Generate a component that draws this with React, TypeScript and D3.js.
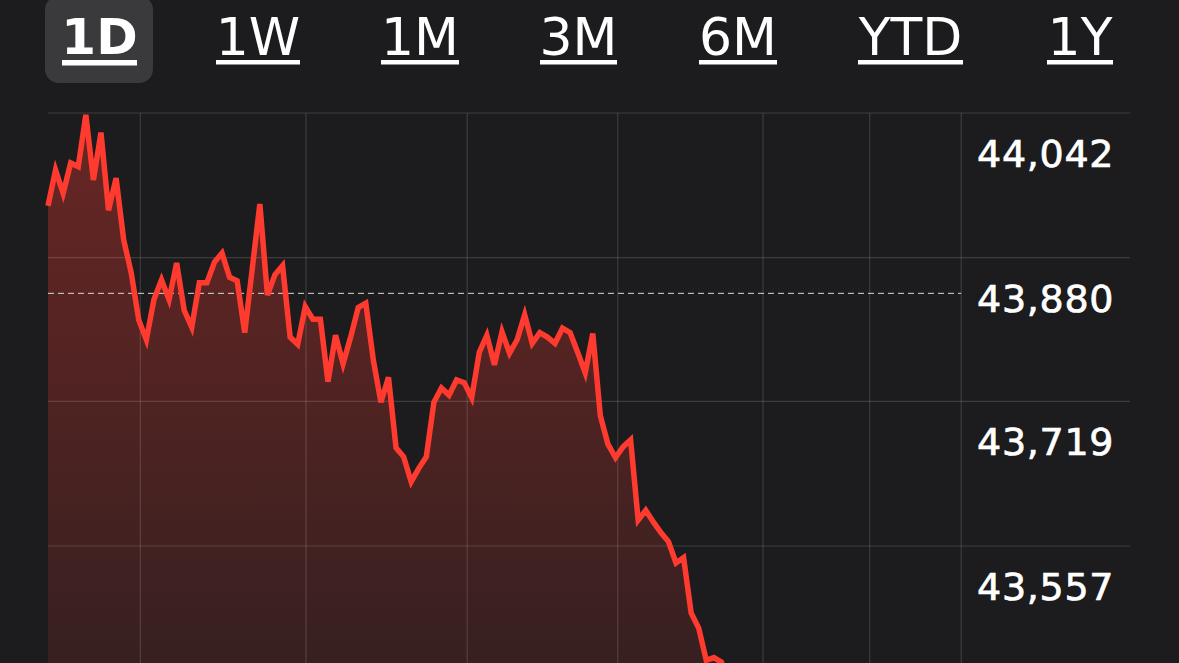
import React from 'react';
import * as d3 from 'd3';

// range selector tabs
const tabs = ['1D', '1W', '1M', '3M', '6M', 'YTD', '1Y'];
const selectedTab = '1D';

// price axis labels and previous close
const yTicks = [44042, 43880, 43719, 43557];
const previousClose = 43840;

// vertical grid lines, in sample index units
const timeTicks = [12.2, 34.1, 55.4, 75.3, 94.5, 108.6, 120.7];
const sessionLength = 143;

// intraday prices
const prices = [
  43938, 43978, 43952, 43986, 43982, 44040, 43967, 44020, 43933, 43969,
  43900, 43863, 43810, 43788, 43833, 43855, 43833, 43874, 43821, 43802,
  43852, 43852, 43875, 43885, 43858, 43854, 43796, 43868, 43940, 43838,
  43861, 43871, 43791, 43783, 43825, 43811, 43811, 43741, 43793, 43761,
  43791, 43824, 43829, 43765, 43718, 43746, 43667, 43657, 43629, 43644,
  43657, 43718, 43734, 43726, 43743, 43740, 43723, 43774, 43793, 43760,
  43797, 43773, 43788, 43816, 43784, 43796, 43791, 43784, 43801, 43796,
  43774, 43751, 43795, 43703, 43671, 43656, 43668, 43676, 43586, 43597,
  43584, 43572, 43562, 43538, 43544, 43482, 43465, 43429, 43432, 43427,
  43400,
];

const W = 1179;
const H = 663;
const plot = { left: 48, right: 1130, top: 113, bottom: 546 };

// tab layout: center x and underline width
const tabLayout = [
  { cx: 99.5, w: 75 },
  { cx: 258, w: 84 },
  { cx: 420, w: 78 },
  { cx: 578.5, w: 77 },
  { cx: 738, w: 78 },
  { cx: 910.5, w: 105 },
  { cx: 1080, w: 66 },
];

const RED = '#ff3b30';
const BG = '#1c1c1e';
const GRID = 'rgba(255,255,255,0.14)';

export default function App() {
  const x = d3.scaleLinear().domain([0, sessionLength]).range([plot.left, plot.right]);
  const y = d3
    .scaleLinear()
    .domain([yTicks[yTicks.length - 1], yTicks[0]])
    .range([plot.bottom, plot.top]);

  const line = d3
    .line<number>()
    .x((_, i) => x(i))
    .y(d => y(d));

  const area = d3
    .area<number>()
    .x((_, i) => x(i))
    .y0(H + 40)
    .y1(d => y(d));

  return (
    <div style={{ position: 'absolute', left: 0, top: 0, width: W, height: H, background: BG }}>
      <svg width={W} height={H} style={{ display: 'block' }}>
        <defs>
          <linearGradient id="fill" gradientUnits="userSpaceOnUse" x1="0" y1={plot.top} x2="0" y2={H}>
            <stop offset="0%" stopColor={RED} stopOpacity={0.34} />
            <stop offset="100%" stopColor={RED} stopOpacity={0.12} />
          </linearGradient>
        </defs>
        <rect width={W} height={H} fill={BG} />

        {/* tabs */}
        {tabs.map((t, i) => {
          const { cx, w } = tabLayout[i];
          const sel = t === selectedTab;
          return (
            <g key={t}>
              {sel && <rect x={cx - 54.5} y={-4} width={108} height={87} rx={14} fill="#3a3a3c" />}
              <text
                x={cx}
                y={sel ? 54 : 55}
                textAnchor="middle"
                fontFamily="DejaVu Sans, sans-serif"
                fontSize={sel ? 50 : 52}
                fontWeight={sel ? 700 : 400}
                fill="#fff"
              >
                {t}
              </text>
              <rect x={cx - w / 2} y={60} width={w} height={sel ? 5.5 : 4.5} fill="#fff" />
            </g>
          );
        })}

        {/* area + grid */}
        <path d={area(prices) ?? ''} fill="url(#fill)" />
        {yTicks.map(v => (
          <line key={v} x1={plot.left} x2={plot.right} y1={y(v)} y2={y(v)} stroke={GRID} strokeWidth={1.2} />
        ))}
        {timeTicks.map(t => (
          <line key={t} x1={x(t)} x2={x(t)} y1={plot.top} y2={H} stroke={GRID} strokeWidth={1.2} />
        ))}
        <line
          x1={plot.left}
          x2={x(timeTicks[timeTicks.length - 1])}
          y1={y(previousClose)}
          y2={y(previousClose)}
          stroke="#d8d8d8"
          strokeWidth={1}
          strokeDasharray="6 4"
        />
        <path d={line(prices) ?? ''} fill="none" stroke={RED} strokeWidth={5.5} strokeLinejoin="miter" />

        {/* price labels */}
        {yTicks.map(v => (
          <text
            key={v}
            x={977}
            y={y(v) + 54}
            fontFamily="DejaVu Sans, sans-serif"
            fontSize={38}
            letterSpacing={0.7}
            fill="#fff"
            stroke="#fff"
            strokeWidth={0.7}
          >
            {d3.format(',')(v)}
          </text>
        ))}
      </svg>
    </div>
  );
}
